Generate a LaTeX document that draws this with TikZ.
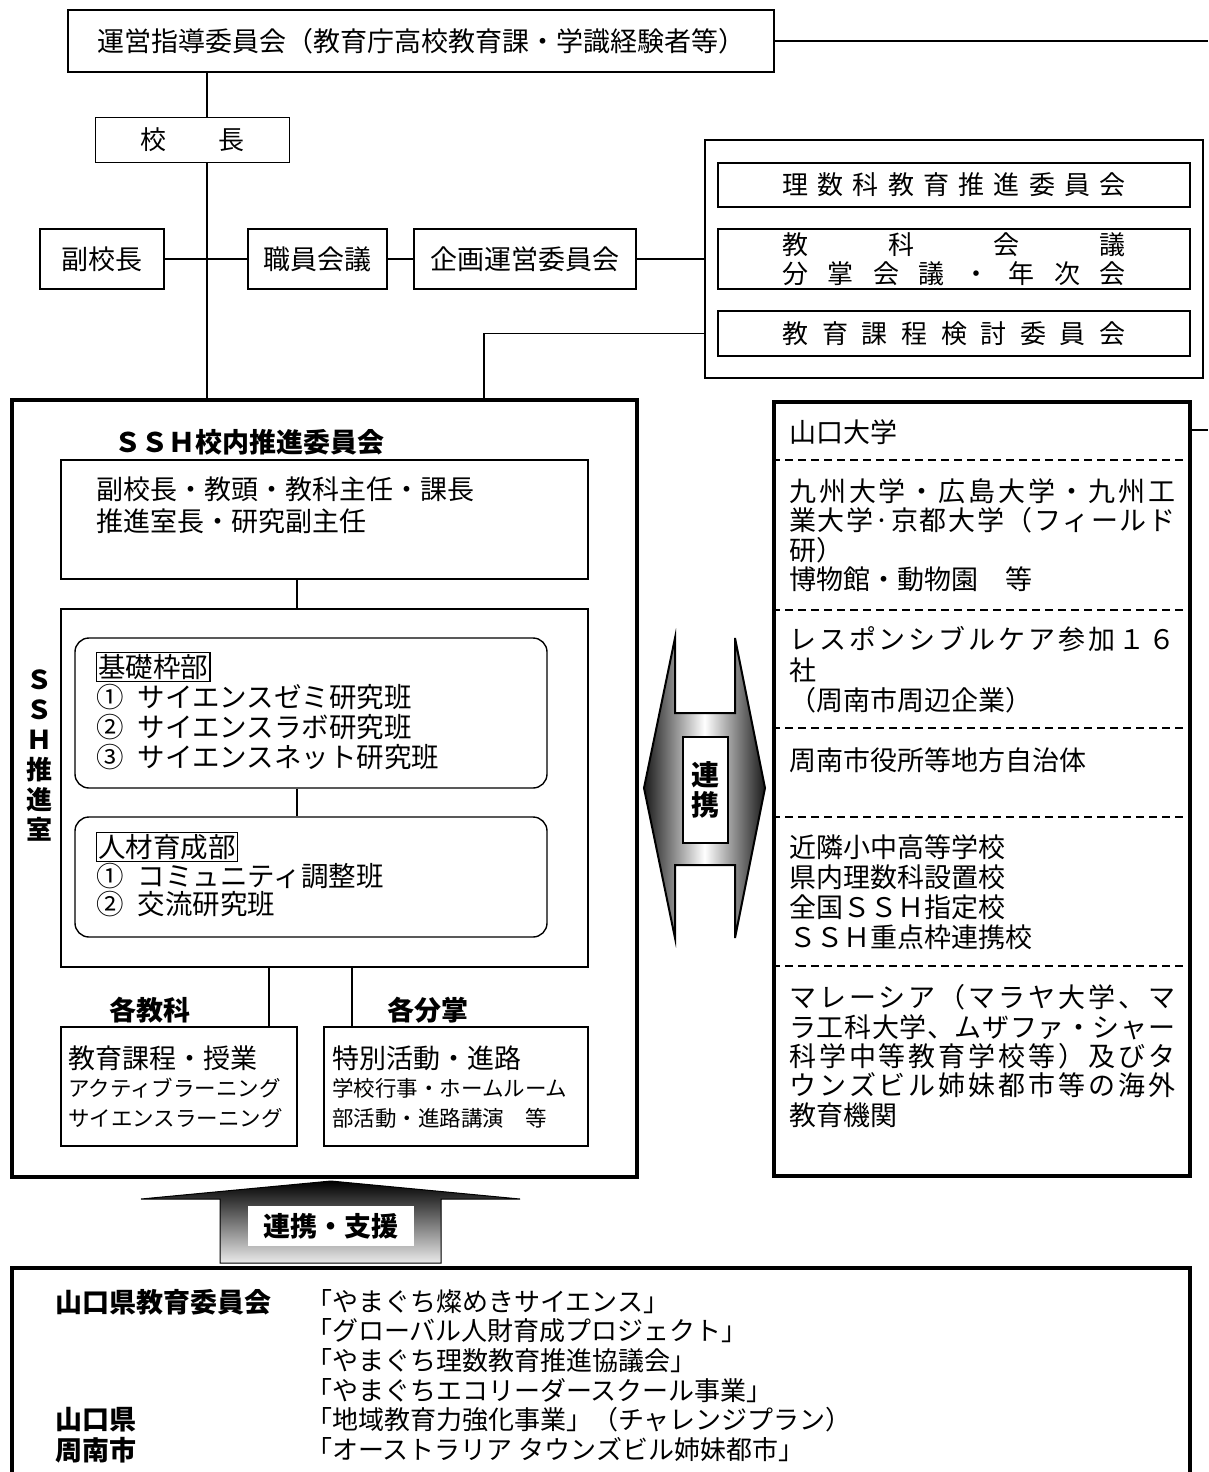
\documentclass[tikz,border=0pt]{standalone}
\usepackage{fontspec}
\setmainfont{Noto Sans CJK JP}
\ExplSyntaxOn
\NewDocumentCommand\spr{mm}{\makebox[#1][s]{\tl_map_inline:nn{#2}{##1\hfill}\unskip}}
\ExplSyntaxOff
\newcommand\fs[2]{\fontsize{#1}{#2}\selectfont}
\newcommand\cgap{\kern14pt}
\setlength\fboxsep{1pt}
\setlength\fboxrule{1.2pt}
\begin{document}
\begin{tikzpicture}[x=1pt,y=-1pt,
  box/.style={draw, line width=1.8pt, inner sep=0pt},
  thinbox/.style={draw, line width=1.4pt, inner sep=0pt},
  thickbox/.style={draw, line width=3.2pt, inner sep=0pt},
  wh/.style 2 args={minimum width=#1, minimum height=#2},
  conn/.style={line width=1.5pt},
  sep/.style={line width=1.8pt, dash pattern=on 8pt off 5pt},
  txt/.style={inner sep=0pt, align=left},
  f27/.style={font=\fs{27}{30}},
  bold/.style={font=\bfseries\fs{27}{30}}]
\useasboundingbox (0,0) rectangle (1208,1472);
% ---------- top part ----------
\node[box, wh={706}{62}, f27] (top) at (421,41) {運営指導委員会（教育庁高校教育課・学識経験者等）};
\node[box, wh={194}{45}, font=\fs{26}{30}] (kocho) at (192.5,140) {校　　長};
\node[thinbox, wh={498}{238}] (grp) at (954,259) {};
\node[box, wh={472}{44}, font=\fs{26}{30}] (rs) at (954,185) {\spr{343pt}{理数科教育推進委員会}};
\node[box, wh={472}{60}, font=\fs{26}{29}, align=center] (kk) at (954,259) {\spr{343pt}{教科会議}\\\spr{343pt}{分掌会議・年次会}};
\node[box, wh={472}{45}, font=\fs{26}{30}] (kt) at (954,333.5) {\spr{343pt}{教育課程検討委員会}};
\node[box, wh={124}{60}, f27] (fuku) at (102,259) {副校長};
\node[box, wh={139}{60}, f27] (shoku) at (317.5,259) {職員会議};
\node[box, wh={222}{60}, f27] (kikaku) at (525,259) {企画運営委員会};
% ---------- SSH block ----------
\node[thickbox, wh={625}{777}] (ssh) at (324.5,788.5) {};
\node[inner sep=0pt, bold] (sshttl) at (249,442) {ＳＳＨ校内推進委員会};
\node[thinbox, wh={527}{119}] (mem) at (324.5,519.5) {};
\node[txt, anchor=north west, font=\fs{27}{32}] (memt) at (96,477) {副校長・教頭・教科主任・課長\\推進室長・研究副主任};
\node[thinbox, wh={527}{358}] (inner) at (324.5,788) {};
\node[thinbox, wh={472}{150}, rounded corners=14pt] (rb1) at (311,713) {};
\node[txt, anchor=north west, font=\fs{27.5}{30}] (rb1t) at (96,652) {\fbox{基礎枠部}\\①\cgap サイエンスゼミ研究班\\②\cgap サイエンスラボ研究班\\③\cgap サイエンスネット研究班};
\node[thinbox, wh={472}{120}, rounded corners=14pt] (rb2) at (311,877) {};
\node[txt, anchor=north west, font=\fs{27.5}{28.5}] (rb2t) at (96,832) {\fbox{人材育成部}\\①\cgap コミュニティ調整班\\②\cgap 交流研究班};
\node[inner sep=0pt, bold] (kyolbl) at (150,1010) {各教科};
\node[inner sep=0pt, bold] (bunlbl) at (428,1010) {各分掌};
\node[thinbox, wh={236}{119}] (kyo) at (179,1086.5) {};
\node[thinbox, wh={264}{119}] (bun) at (456,1086.5) {};
\node[txt, anchor=west, f27] (kyot1) at (68,1058) {教育課程・授業};
\node[txt, anchor=west, font=\fs{21.5}{24}] (kyot2) at (68,1088) {アクティブラーニング};
\node[txt, anchor=west, font=\fs{21.5}{24}] (kyot3) at (68,1118) {サイエンスラーニング};
\node[txt, anchor=west, f27] (bunt1) at (332,1058) {特別活動・進路};
\node[txt, anchor=west, font=\fs{21.5}{24}] (bunt2) at (332,1088) {学校行事・ホームルーム};
\node[txt, anchor=west, font=\fs{21.5}{24}] (bunt3) at (332,1118) {部活動・進路講演　等};
\node[inner sep=0pt, align=center, font=\bfseries\fs{26}{30}] (sshv) at (40,755) {Ｓ\\Ｓ\\Ｈ\\推\\進\\室};
% ---------- right block ----------
\node[thickbox, wh={416}{774}] (rbox) at (982,789) {};
\foreach \yy in {460,610,728,817,966} \draw[sep] (rbox.west |- 0,\yy) -- (rbox.east |- 0,\yy);
\node[txt, anchor=west, f27] (r1) at (789,432) {山口大学};
\node[txt, anchor=north west, font=\fs{27}{29.3}] (r2) at (789,478.5) {\spr{386pt}{九州大学・広島大学・九州工}\\\spr{386pt}{業大学·京都大学（フィールド}\\研）\\博物館・動物園　等};
\node[txt, anchor=north west, font=\fs{27}{30.5}] (r3) at (789,626.5) {\spr{386pt}{レスポンシブルケア参加１６}\\社\\（周南市周辺企業）};
\node[txt, anchor=west, f27] (r4) at (789,760) {周南市役所等地方自治体};
\node[txt, anchor=north west, font=\fs{27}{30}] (r5) at (789,834.5) {近隣小中高等学校\\県内理数科設置校\\全国ＳＳＨ指定校\\ＳＳＨ重点枠連携校};
\node[txt, anchor=north west, font=\fs{27}{29.3}] (r6) at (789,984.5) {\spr{386pt}{マレーシア（マラヤ大学、マ}\\\spr{386pt}{ラ工科大学、ムザファ・シャー}\\\spr{386pt}{科学中等教育学校等）及びタ}\\\spr{386pt}{ウンズビル姉妹都市等の海外}\\教育機関};
% ---------- double arrow ----------
\path[draw, line width=2pt, left color=black!90, right color=black!90, middle color=white]
  (675,638) -- (675,713) -- (735,713) -- (735,638) -- (765,788) -- (735,938) -- (735,865) -- (675,865) -- (675,938) -- (644,788) -- cycle;
\node[draw, fill=white, line width=2pt, wh={45}{106}, inner sep=0pt, align=center, font=\bfseries\fs{28}{30}] (renkei) at (705.5,790) {連\\携};
% ---------- up arrow ----------
\path[draw, line width=1pt, top color=black, bottom color=black!8]
  (331,1181) -- (520,1199) -- (441,1199) -- (441,1263) -- (220,1263) -- (220,1199) -- (141,1199) -- cycle;
\node[fill=white, wh={166}{40}, inner sep=0pt, bold] (shien) at (331,1226) {連携・支援};
% ---------- bottom block ----------
\node[thickbox, wh={1178}{230}] (bot) at (601,1383) {};
\node[txt, anchor=west, bold] (b1) at (55,1302) {山口県教育委員会};
\node[txt, anchor=west, bold] (b2) at (55,1420) {山口県};
\node[txt, anchor=west, bold] (b3) at (55,1450) {周南市};
\node[txt, anchor=north west, font=\fs{26}{29.6}] (b4) at (306,1289) {「やまぐち燦めきサイエンス」\\「グローバル人財育成プロジェクト」\\「やまぐち理数教育推進協議会」\\「やまぐちエコリーダースクール事業」\\「地域教育力強化事業」（チャレンジプラン）\\「オーストラリア タウンズビル姉妹都市」};
% ---------- connectors ----------
\coordinate (sp) at (207,0);
\coordinate (jx) at (484,0);
\coordinate (c297) at (297,0);
\coordinate (c269) at (269,0);
\coordinate (c352) at (352,0);
\coordinate (e1) at (1208,41);
\coordinate (e2) at (1208,430);
\draw[conn] (top.south -| sp) -- (kocho.north -| sp);
\draw[conn] (kocho.south -| sp) -- (ssh.north -| sp);
\draw[conn] (fuku.east) -- (shoku.west);
\draw[conn] (shoku.east) -- (kikaku.west);
\draw[conn] (kikaku.east) -- (kikaku.east -| grp.west);
\draw[conn] (grp.west |- kt) -- (kt -| jx) -- (ssh.north -| jx);
\draw[conn] (top.east) -- (top.east -| e1);
\draw[conn] (rbox.east |- e2) -- (e2);
\draw[conn] (mem.south -| c297) -- (inner.north -| c297);
\draw[conn] (rb1.south -| c297) -- (rb2.north -| c297);
\draw[conn] (inner.south -| c269) -- (kyo.north -| c269);
\draw[conn] (inner.south -| c352) -- (bun.north -| c352);
\end{tikzpicture}
\end{document}
